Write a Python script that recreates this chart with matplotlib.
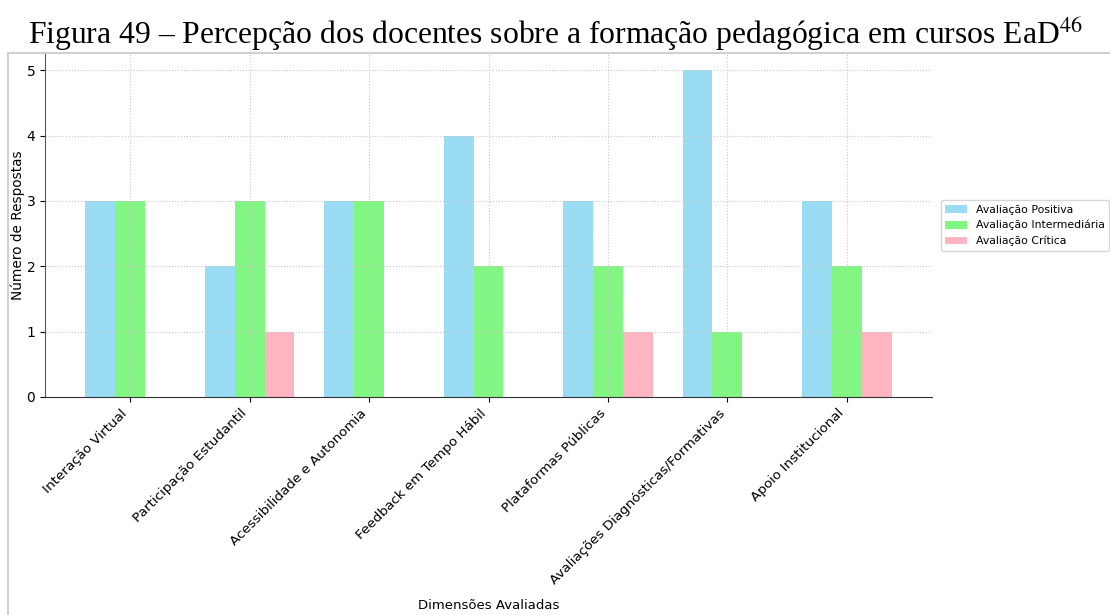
import numpy as np
import matplotlib
matplotlib.use("Agg")
import matplotlib.pyplot as plt
from matplotlib.lines import Line2D

# data
categories = ["Interação Virtual", "Participação Estudantil", "Acessibilidade e Autonomia",
              "Feedback em Tempo Hábil", "Plataformas Públicas",
              "Avaliações Diagnósticas/Formativas", "Apoio Institucional"]
positiva = [3, 2, 3, 4, 3, 5, 3]
intermediaria = [3, 3, 3, 2, 2, 1, 2]
critica = [0, 1, 0, 0, 1, 0, 1]
series_names = ["Avaliação Positiva", "Avaliação Intermediária", "Avaliação Crítica"]

colors = ["#87D6F3", "#6CF56C", "#FFA8B6"]

plt.rcParams["font.family"] = "DejaVu Sans"
plt.rcParams["mathtext.fontset"] = "stix"

fig = plt.figure(figsize=(11.1, 6.15), dpi=100)
ax = fig.add_axes([45 / 1110, 1 - 397 / 615, (932 - 45) / 1110, (397 - 54) / 615])

x = np.arange(len(categories))
w = 0.25
for off, vals, col, name in zip([-w, 0, w], [positiva, intermediaria, critica], colors, series_names):
    ax.bar(x + off, vals, w, color=col, alpha=0.85, label=name)

ax.set_xticks(x)
ax.set_xticklabels(categories, rotation=45, ha="right", fontsize=9.7)
ax.tick_params(axis="y", labelsize=10)
ax.set_yticks(range(0, 6))
ax.grid(True, linestyle=":", color="#c8c8c8", linewidth=0.8)
ax.spines["top"].set_visible(False)
ax.spines["right"].set_visible(False)
ax.spines["left"].set_color("#555555")
ax.spines["bottom"].set_color("#333333")
ax.set_ylabel("Número de Respostas", fontsize=9.8)
ax.yaxis.set_label_coords(-0.022, 0.5)
ax.set_xlabel("Dimensões Avaliadas", fontsize=9.5)
ax.xaxis.set_label_coords(0.5, -0.59)

ax.legend(loc="center left", bbox_to_anchor=(1.004, 0.5), fontsize=7.8, frameon=True)

# document title above the embedded chart
fig.text(0.5, 1 - 44 / 615, "Figura 49 – Percepção dos docentes sobre a formação pedagógica em cursos EaD$^{46}$",
         ha="center", va="baseline", fontsize=22.8, family="Liberation Serif")

# light frame of the embedded picture
fig.add_artist(Line2D([8 / 1110, 8 / 1110], [0, 1 - 53 / 615], transform=fig.transFigure,
                      color="#d0d0d0", linewidth=1.5))
fig.add_artist(Line2D([8 / 1110, 1], [1 - 53 / 615, 1 - 53 / 615], transform=fig.transFigure,
                      color="#d0d0d0", linewidth=1.5))

fig.savefig("out.png", dpi=100)
